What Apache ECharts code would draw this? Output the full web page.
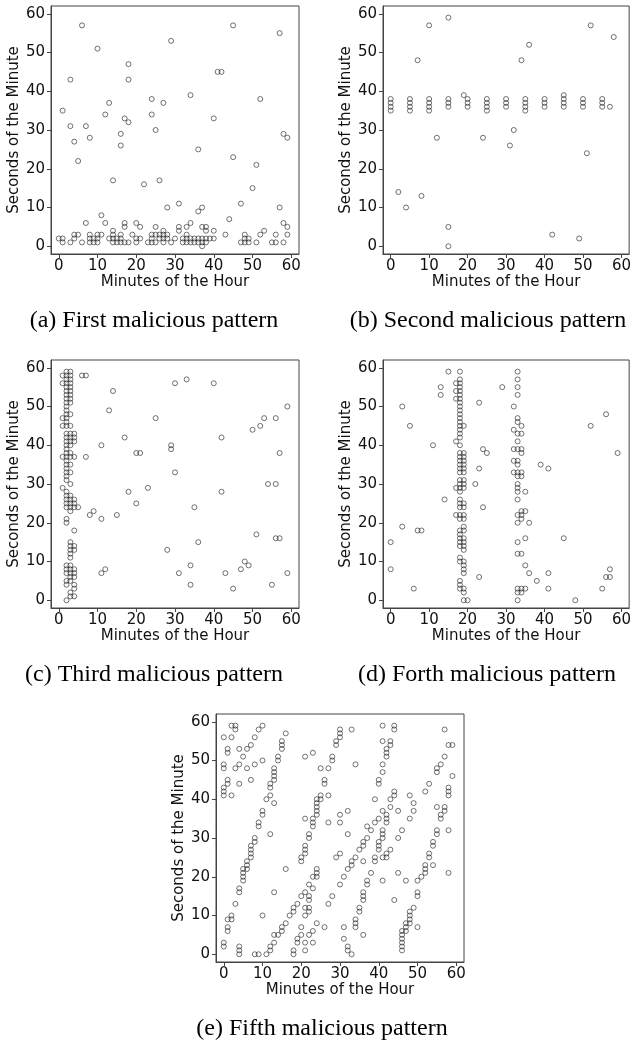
<!DOCTYPE html>
<html>
<head>
<meta charset="utf-8">
<script src="https://cdn.jsdelivr.net/npm/echarts@6/dist/echarts.min.js"></script>
<style>
  html, body { margin: 0; background: #fff; }
  #chart { width: 634px; height: 1044px; }
</style>
</head>
<body>
<div id="chart"></div>
<script>
var TICKS = [0, 10, 20, 30, 40, 50, 60]
var X_NAME = 'Minutes of the Hour'
var Y_NAME = 'Seconds of the Minute'
var CAPTIONS = [
    '(a) First malicious pattern',
    '(b) Second malicious pattern',
    '(c) Third malicious pattern',
    '(d) Forth malicious pattern',
    '(e) Fifth malicious pattern'
]

// [minute, second] pairs
var patternA = [
    [1,35],[6,57],[10,51],[3,43],[3,31],[4,27],[5,22],[7,31],[8,28],[7,6],[11,8],[12,6],[12,34],[13,37],
    [14,17],[16,29],[16,26],[17,33],[18,32],[18,47],[18,43],[17,6],[17,5],[20,6],[21,5],[22,16],[24,38],
    [24,34],[25,30],[25,5],[26,17],[27,37],[28,10],[29,53],[31,11],[31,5],[31,4],[34,39],[34,6],[33,5],
    [36,25],[36,9],[37,10],[37,5],[38,5],[38,4],[40,33],[40,4],[41,45],[42,45],[43,3],[44,7],[45,57],
    [45,23],[47,11],[50,15],[51,21],[52,38],[52,3],[53,4],[57,55],[57,10],[58,6],[58,29],[59,28],[59,5],[59,3],
    [0,2],[1,2],[1,1],[3,1],[4,2],[4,3],[5,3],[6,1],[8,3],[8,2],[8,1],[9,2],[9,1],[10,2],[10,1],[10,3],
    [11,3],[13,2],[14,4],[14,3],[14,2],[14,1],[15,2],[15,1],[16,3],[16,2],[16,1],[17,1],[18,1],[19,3],
    [20,2],[20,1],[21,2],[23,1],[24,3],[24,2],[24,1],[25,1],[25,3],[26,2],[26,3],[27,4],[27,3],[27,2],
    [27,1],[28,3],[28,2],[29,1],[30,2],[32,2],[32,1],[33,3],[33,2],[33,1],[34,2],[34,1],[35,2],[35,1],
    [36,2],[36,1],[37,2],[37,1],[37,0],[38,2],[38,1],[39,2],[40,2],[47,1],[48,1],[48,2],[48,3],[49,1],
    [49,2],[51,1],[55,1],[56,1],[56,3],[58,1]
]

var patternB = [
    [0,35],[0,36],[0,37],[0,38],[2,14],[4,10],[5,35],[5,36],[5,37],[5,38],[7,48],[8,13],[10,57],
    [10,35],[10,36],[10,37],[10,38],[12,28],[15,59],[15,36],[15,37],[15,38],[15,5],[15,0],[19,39],
    [20,36],[20,37],[20,38],[24,28],[25,35],[25,36],[25,37],[25,38],[30,36],[30,37],[30,38],[31,26],
    [32,30],[34,48],[35,35],[35,36],[35,37],[35,38],[36,52],[40,36],[40,37],[40,38],[42,3],[45,36],
    [45,37],[45,38],[45,39],[49,2],[50,36],[50,37],[50,38],[51,24],[52,57],[55,36],[55,37],[55,38],
    [57,36],[58,54]
]

var patternC = [
    [2,59],[3,59],[1,58],[2,58],[3,58],[2,57],[3,57],[1,56],[2,56],[3,56],[2,55],[3,55],[2,54],[3,54],
    [2,53],[3,53],[2,52],[3,52],[2,51],[3,51],[2,50],[2,49],[2,48],[3,48],[1,47],[2,47],[2,46],[1,45],
    [2,45],[3,45],[2,43],[3,43],[4,43],[2,42],[3,42],[4,42],[2,41],[3,41],[4,41],[2,40],[3,40],[2,39],
    [2,38],[3,38],[1,37],[2,37],[3,37],[4,37],[2,36],[2,35],[3,35],[2,34],[2,33],[3,33],[2,32],[2,31],
    [3,30],[1,29],[2,28],[2,27],[3,27],[2,26],[3,26],[4,26],[2,25],[3,25],[4,25],[2,24],[3,24],[4,24],
    [5,24],[3,23],[2,21],[2,20],[4,18],[3,15],[3,14],[4,14],[3,13],[4,13],[3,12],[3,11],[2,9],[3,9],
    [2,8],[3,8],[4,8],[2,7],[3,7],[4,7],[3,6],[4,6],[2,5],[3,5],[2,4],[4,4],[4,3],[3,2],[3,1],[4,1],[2,0],
    [6,58],[7,58],[7,37],[8,22],[9,23],[11,21],[11,40],[11,7],[12,8],[13,49],[14,54],[15,22],[17,42],
    [18,28],[20,38],[21,38],[20,25],[23,29],[25,47],[30,56],[33,57],[40,56],[29,40],[29,39],[30,33],
    [42,42],[42,28],[35,24],[28,13],[36,15],[34,9],[34,4],[31,7],[43,7],[45,3],[47,8],[48,10],[49,9],
    [51,17],[50,44],[52,45],[53,47],[56,47],[54,30],[56,30],[57,38],[56,16],[57,16],[55,4],[59,7],[59,50]
]

var patternD = [
    [0,15],[0,8],[3,50],[3,19],[5,45],[6,3],[7,18],[8,18],[11,40],[13,53],[13,55],[14,26],[15,59],
    [18,59],[18,57],[17,56],[18,56],[18,55],[17,54],[18,54],[18,53],[17,52],[18,52],[18,51],[18,50],
    [18,49],[18,48],[18,47],[18,46],[18,45],[19,45],[18,44],[18,43],[18,42],[17,41],[18,40],[18,38],
    [19,38],[18,37],[19,37],[18,36],[19,36],[18,35],[19,35],[18,34],[19,34],[18,33],[19,33],[18,31],
    [19,31],[18,30],[19,30],[17,29],[18,29],[19,29],[18,28],[18,26],[18,25],[19,25],[18,24],[19,24],
    [17,22],[18,22],[19,22],[18,21],[19,21],[19,19],[18,18],[19,18],[18,17],[18,16],[19,16],[18,15],
    [19,15],[18,14],[19,14],[19,13],[18,11],[18,10],[19,10],[19,9],[19,8],[19,7],[18,5],[18,4],[18,3],
    [19,3],[19,2],[19,0],[20,0],
    [22,30],[23,51],[24,39],[25,38],[23,34],[24,24],[23,6],
    [33,59],[33,57],[33,55],[29,55],[33,53],[32,50],[33,47],[33,46],[34,45],[32,44],[33,43],[34,43],
    [33,41],[32,39],[33,39],[34,39],[34,38],[32,36],[33,36],[33,35],[32,33],[33,33],[34,33],[33,32],
    [34,32],[33,30],[33,29],[33,28],[35,28],[33,26],[34,23],[35,23],[33,22],[34,22],[34,21],[33,20],
    [36,20],[33,15],[35,16],[33,12],[34,12],[35,9],[36,7],[33,3],[34,3],[35,3],[33,2],[34,2],[33,0],
    [38,5],[39,35],[41,34],[41,7],[41,3],[45,16],[48,0],[52,45],[56,48],[55,3],[56,6],[57,6],[57,8],[59,38]
]

var patternE = [
    [0,56],[0,49],[0,48],[0,43],[0,42],[0,41],[0,3],[0,2],
    [1,53],[1,52],[1,45],[1,44],[1,9],[1,7],[1,6],
    [2,59],[2,56],[2,41],[2,10],[2,9],
    [3,59],[3,58],[3,48],[3,13],
    [4,53],[4,49],[4,44],[4,17],[4,16],[4,2],[4,1],[4,0],
    [5,51],[5,22],[5,21],[5,20],[5,19],
    [6,53],[6,48],[6,24],[6,23],[6,22],
    [7,54],[7,45],[7,28],[7,27],[7,26],[7,25],
    [8,56],[8,49],[8,30],[8,29],[8,0],
    [9,58],[9,34],[9,33],[9,0],
    [10,59],[10,50],[10,37],[10,36],[10,10],
    [11,40],[11,0],
    [12,44],[12,43],[12,41],[12,31],[12,2],[12,1],
    [13,48],[13,47],[13,46],[13,45],[13,39],[13,16],[13,5],[13,3],
    [14,51],[14,50],[14,5],
    [15,55],[15,54],[15,53],[15,7],[15,6],
    [16,57],[16,22],[16,8],
    [17,10],[18,11],[18,12],[19,13],[19,4],[19,3],[18,1],[18,0],
    [20,25],[20,24],[20,15],[20,7],[20,5],
    [21,51],[21,35],[21,28],[21,27],[21,26],[21,16],[21,12],[21,10],[21,3],[21,1],
    [22,31],[22,30],[22,18],[22,15],[22,14],[22,12],[22,11],[22,5],
    [23,52],[23,35],[23,34],[23,33],[23,20],[23,17],[23,6],[23,3],
    [24,40],[24,39],[24,38],[24,37],[24,36],[24,22],[24,21],[24,20],[24,8],
    [25,48],[25,41],[25,40],[26,45],[26,44],[26,7],[27,48],[27,41],[27,34],[27,13],[28,51],[28,50],[28,15],
    [29,55],[29,54],[29,25],[30,58],[30,57],[30,56],[30,36],[30,34],[30,26],[30,18],[31,20],[32,37],[32,31],
    [32,22],[31,7],[31,4],[32,2],[32,1],[33,0],[33,58],[33,23],[33,24],[34,25],[34,49],[34,9],[34,8],[34,7],
    [35,27],[35,12],[35,11],[36,29],[36,28],[36,24],[36,16],[36,15],[36,14],[36,5],[37,30],[37,19],[37,18],
    [37,33],[38,32],[38,21],[39,40],[39,34],[39,25],[39,24],[40,35],[40,45],[40,44],[40,29],[40,28],[40,27],
    [41,59],[41,55],[41,49],[41,47],[41,37],[41,32],[41,31],[41,30],[41,25],[41,19],[42,25],[42,26],[42,52],
    [42,51],[42,53],[42,36],[42,35],[42,34],[43,55],[43,54],[43,40],[43,38],[43,27],[44,59],[44,58],[44,42],
    [44,41],[44,14],[45,37],[45,30],[45,21],[46,32],[46,6],[46,5],[46,4],[46,3],[46,2],[46,1],[47,19],[47,8],
    [47,7],[47,6],[48,41],[48,35],[48,11],[48,10],[48,9],[48,8],[49,39],[49,37],[49,12],[50,19],[50,16],
    [50,15],[50,7],[51,20],[52,23],[52,22],[52,21],[52,42],[53,44],[53,26],[53,25],[54,29],[54,28],[54,23],
    [55,38],[55,48],[55,47],[55,32],[55,31],[56,49],[56,36],[56,35],[57,58],[57,51],[57,38],[57,37],[58,54],
    [59,54],[58,43],[58,42],[58,41],[58,32],[58,21],[59,46]
]

var panels = [
    { data: patternA, left: 51, top: 6, cx: 154, cy: 321 },
    { data: patternB, left: 383, top: 6, cx: 488, cy: 321 },
    { data: patternC, left: 51, top: 360, cx: 154, cy: 675 },
    { data: patternD, left: 383, top: 360, cx: 487, cy: 675 },
    { data: patternE, left: 216, top: 714, cx: 322, cy: 1029 }
]

var labelFont = { fontFamily: 'DejaVu Sans', fontSize: 15, color: '#111' }
var lineColor = '#444'

var grid = [], xAxis = [], yAxis = [], series = [], graphic = []

for (var i = 0; i < panels.length; i++) {
    var p = panels[i]
    grid.push({
        left: p.left, top: p.top, width: 248, height: 248,
        show: true, borderColor: lineColor, borderWidth: 1
    })
    xAxis.push({
        gridIndex: i, type: 'value', min: -2, max: 62,
        name: X_NAME, nameLocation: 'middle', nameGap: 21,
        nameTextStyle: labelFont,
        axisLine: { show: true, onZero: false, lineStyle: { color: lineColor, width: 1 } },
        axisTick: { show: true, length: 4, customValues: TICKS, lineStyle: { color: lineColor } },
        axisLabel: { customValues: TICKS, margin: 5, fontFamily: 'DejaVu Sans', fontSize: 15, color: '#111' },
        splitLine: { show: false }
    })
    yAxis.push({
        gridIndex: i, type: 'value', min: -2, max: 62,
        name: Y_NAME, nameLocation: 'middle', nameGap: 28,
        nameTextStyle: labelFont,
        axisLine: { show: true, onZero: false, lineStyle: { color: lineColor, width: 1 } },
        axisTick: { show: true, length: 4, customValues: TICKS, lineStyle: { color: lineColor } },
        axisLabel: { customValues: TICKS, margin: 6, fontFamily: 'DejaVu Sans', fontSize: 15, color: '#111' },
        splitLine: { show: false }
    })
    series.push({
        type: 'scatter', xAxisIndex: i, yAxisIndex: i,
        data: p.data, symbol: 'circle', symbolSize: 5,
        itemStyle: { color: 'rgba(255,255,255,0)', borderColor: '#222', borderWidth: 0.8 },
        silent: true
    })
    graphic.push({
        type: 'text', x: p.cx, y: p.cy,
        style: {
            text: CAPTIONS[i], fill: '#000',
            font: '24px "Liberation Serif"',
            align: 'center', verticalAlign: 'middle'
        }
    })
}

var chart = echarts.init(document.getElementById('chart'), null, { renderer: 'canvas' })
chart.setOption({
    backgroundColor: '#fff',
    animation: false,
    grid: grid,
    xAxis: xAxis,
    yAxis: yAxis,
    series: series,
    graphic: graphic
})
</script>
</body>
</html>
